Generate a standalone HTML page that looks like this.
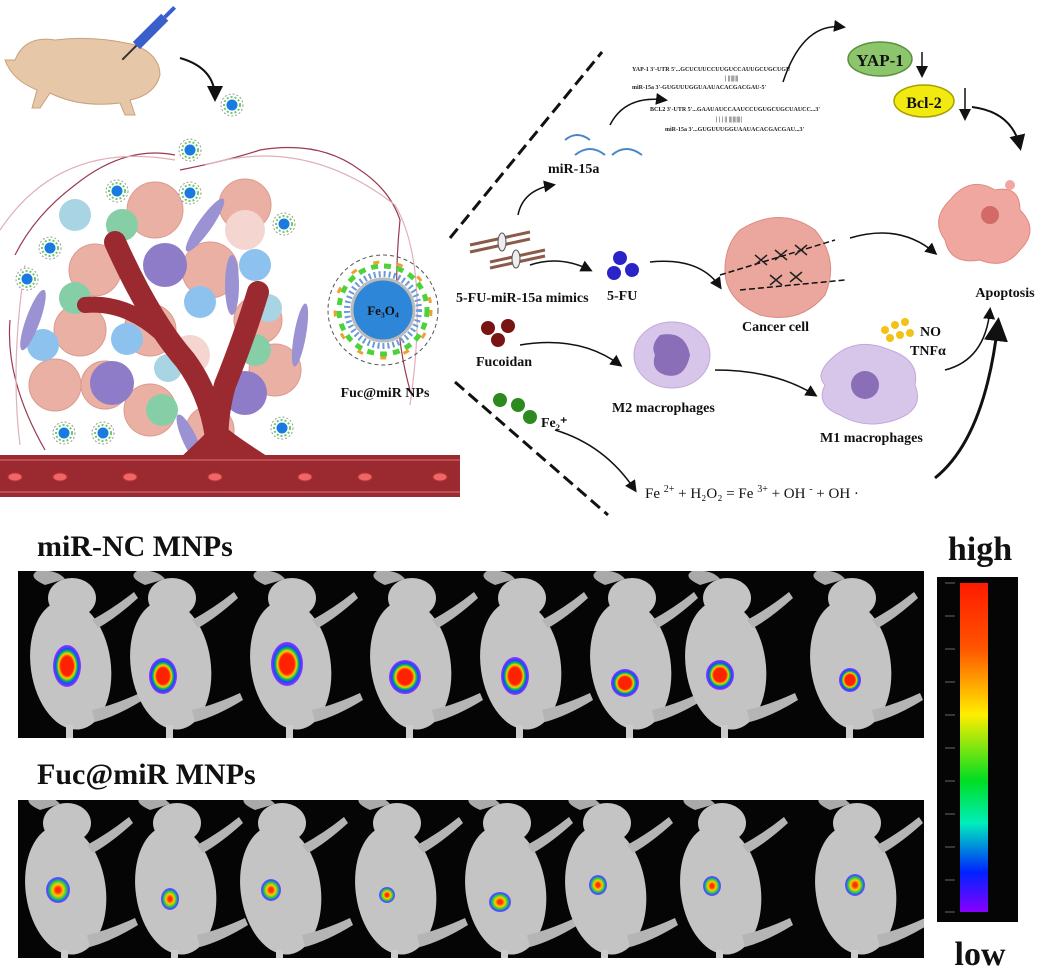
<!DOCTYPE html>
<html><head><meta charset="utf-8"><style>
html,body{margin:0;padding:0;background:#fff}
svg{display:block}
text{font-family:"Liberation Serif",serif;font-weight:bold}
</style></head><body>
<svg width="1039" height="975" viewBox="0 0 1039 975" xmlns="http://www.w3.org/2000/svg">
<defs>
<marker id="ah" markerWidth="8" markerHeight="8" refX="6" refY="4" orient="auto"><path d="M0,0 L8,4 L0,8 z" fill="#111"/></marker>
<linearGradient id="cb" x1="0" y1="0" x2="0" y2="1">
<stop offset="0" stop-color="#ff1a00"/><stop offset="0.2" stop-color="#ff5500"/><stop offset="0.4" stop-color="#ffee00"/><stop offset="0.6" stop-color="#00dd22"/><stop offset="0.73" stop-color="#00eebb"/><stop offset="0.88" stop-color="#0022ff"/><stop offset="1" stop-color="#8800ff"/></linearGradient>
<radialGradient id="blob"><stop offset="0.45" stop-color="#ff2200"/><stop offset="0.6" stop-color="#ffcc00"/><stop offset="0.7" stop-color="#00cc44"/><stop offset="0.82" stop-color="#2244ff"/><stop offset="1" stop-color="#9933ff"/></radialGradient>
<radialGradient id="blob2"><stop offset="0.2" stop-color="#ff3300"/><stop offset="0.45" stop-color="#ffcc00"/><stop offset="0.7" stop-color="#22cc44"/><stop offset="0.88" stop-color="#3355ff"/><stop offset="1" stop-color="#8844ff"/></radialGradient>
<clipPath id="c1"><rect x="18" y="571" width="906" height="167"/></clipPath>
<clipPath id="c2"><rect x="18" y="800" width="906" height="158"/></clipPath>
<g id="mouse" fill="#c4c4c4">
<ellipse cx="2" cy="-62" rx="24" ry="20"/>
<path d="M-25,-75 q-18,-8 -8,-14 q20,-2 28,8z" fill="#aaa"/>
<ellipse cx="0" cy="5" rx="40" ry="65" transform="rotate(-8)"/>
<path d="M22,-40 q22,-12 42,-28 l4,6 q-22,20 -40,30z" fill="#b5b5b5"/>
<path d="M22,50 q22,-5 48,-17 l3,7 q-26,16 -48,22z" fill="#b5b5b5"/>
<rect x="-4" y="65" width="7" height="25" fill="#ccc"/>
</g>
<g id="np"><circle r="11" fill="#fff" stroke="#999" stroke-dasharray="2 2"/><circle r="8" fill="none" stroke="#6c6" stroke-width="2" stroke-dasharray="2 2"/><circle r="5.5" fill="#1a7ae0"/></g>
</defs>

<path d="M15,60 q10,-25 40,-20 q40,-5 80,5 q25,10 25,30 q-5,20 -30,25 l5,15 h-10 l-5,-12 q-40,5 -70,-10 l-10,15 h-8 l5,-18 q-25,-10 -32,-30z" fill="#e6c7a8" stroke="#c9a07a"/>
<g transform="rotate(-45 152 30)"><rect x="130" y="25" width="40" height="10" fill="#3a5fcd"/><rect x="170" y="28" width="14" height="4" fill="#3a5fcd"/><line x1="110" y1="30" x2="130" y2="30" stroke="#333" stroke-width="2"/></g>
<path d="M180,58 q35,10 35,40" fill="none" stroke="#111" stroke-width="2" marker-end="url(#ah)"/>
<path d="M15,255 q20,-40 60,-70 q50,-40 100,-30 M180,170 q50,-10 80,-20 q60,-10 100,20 q30,20 40,50 q-10,100 10,170 M10,320 q-5,60 35,130" fill="none" stroke="#9b3a52" stroke-width="1.2"/>
<path d="M0,230 q60,-90 175,-70 M205,165 q100,-30 190,40 q35,60 15,200 M20,445 q-10,-80 5,-180" fill="none" stroke="#e0b0b8" stroke-width="1.2"/>
<g fill="#eab0a4" stroke="#dc9a8e">
<circle cx="155" cy="210" r="28"/><circle cx="245" cy="205" r="26"/><circle cx="95" cy="270" r="26"/><circle cx="210" cy="270" r="28"/><circle cx="258" cy="320" r="24"/><circle cx="80" cy="330" r="26"/><circle cx="150" cy="330" r="26"/><circle cx="55" cy="385" r="26"/><circle cx="105" cy="385" r="24"/><circle cx="150" cy="410" r="26"/><circle cx="275" cy="370" r="26"/><circle cx="210" cy="430" r="24"/>
</g>
<g fill="#f5d5cf"><circle cx="245" cy="230" r="20"/><circle cx="190" cy="355" r="20"/></g>
<g fill="#86cfa6"><circle cx="122" cy="225" r="16"/><circle cx="75" cy="298" r="16"/><circle cx="255" cy="350" r="16"/><circle cx="162" cy="410" r="16"/></g>
<g fill="#8ec2ee"><circle cx="43" cy="345" r="16"/><circle cx="200" cy="302" r="16"/><circle cx="127" cy="339" r="16"/><circle cx="255" cy="265" r="16"/></g>
<g fill="#a8d4e4"><circle cx="75" cy="215" r="16"/><circle cx="168" cy="368" r="14"/><circle cx="268" cy="308" r="14"/></g>
<g fill="#8f7cc8"><circle cx="165" cy="265" r="22"/><circle cx="112" cy="383" r="22"/><circle cx="245" cy="393" r="22"/></g>
<g fill="#9a92d2"><ellipse cx="33" cy="320" rx="7" ry="32" transform="rotate(20 33 320)"/><ellipse cx="205" cy="225" rx="7" ry="32" transform="rotate(35 205 225)"/><ellipse cx="232" cy="285" rx="7" ry="30"/><ellipse cx="190" cy="440" rx="7" ry="28" transform="rotate(-25 190 440)"/><ellipse cx="300" cy="335" rx="6" ry="32" transform="rotate(10 300 335)"/></g>
<!-- vessel -->
<g fill="none" stroke="#9b2a30" stroke-linecap="round">
<path d="M115,242 Q150,320 185,360 Q215,400 218,458" stroke-width="22"/>
<path d="M85,305 Q140,300 185,360" stroke-width="16"/>
<path d="M258,292 Q245,335 225,385 Q215,420 218,458" stroke-width="22"/>
</g>
<path d="M180,458 Q210,430 218,420 Q226,430 270,458z" fill="#9b2a30"/>
<rect x="0" y="455" width="460" height="42" fill="#9b2a30"/>
<line x1="0" y1="460" x2="460" y2="460" stroke="#c85a5e" stroke-width="1.5"/>
<line x1="0" y1="492" x2="460" y2="492" stroke="#c85a5e" stroke-width="1.5"/>
<g fill="#e66" stroke="#b33"><ellipse cx="15" cy="477" rx="7" ry="4"/><ellipse cx="60" cy="477" rx="7" ry="4"/><ellipse cx="130" cy="477" rx="7" ry="4"/><ellipse cx="215" cy="477" rx="7" ry="4"/><ellipse cx="305" cy="477" rx="7" ry="4"/><ellipse cx="365" cy="477" rx="7" ry="4"/><ellipse cx="440" cy="477" rx="7" ry="4"/></g>
<use href="#np" x="232" y="105"/><use href="#np" x="190" y="150"/><use href="#np" x="117" y="191"/><use href="#np" x="190" y="193"/><use href="#np" x="50" y="248"/><use href="#np" x="284" y="224"/><use href="#np" x="27" y="279"/><use href="#np" x="64" y="433"/><use href="#np" x="103" y="433"/><use href="#np" x="282" y="428"/>

<circle cx="383" cy="310" r="55" fill="none" stroke="#555" stroke-dasharray="4 3"/>
<circle cx="383" cy="310" r="44" fill="none" stroke="#4cd33a" stroke-width="5" stroke-dasharray="7 6"/>
<circle cx="383" cy="310" r="48" fill="none" stroke="#f0a030" stroke-width="3" stroke-dasharray="6 18"/>
<circle cx="383" cy="310" r="36" fill="none" stroke="#6a9ad8" stroke-width="6" stroke-dasharray="2 3"/>
<circle cx="383" cy="310" r="31" fill="#2d86d8" stroke="#bbb" stroke-width="3"/>
<text x="383" y="315" font-size="13" text-anchor="middle" fill="#111">Fe₃O₄</text>
<text x="385" y="397" font-size="14" text-anchor="middle" fill="#111">Fuc@miR NPs</text>

<line x1="450" y1="238" x2="602" y2="52" stroke="#111" stroke-width="3" stroke-dasharray="12 6"/>
<line x1="455" y1="382" x2="608" y2="515" stroke="#111" stroke-width="3" stroke-dasharray="12 6"/>

<g font-size="6" font-weight="bold" fill="#222">
<text x="632" y="71">YAP-1  3'-UTR 5'...GCUCUUCCUUGUCCAUUGCUGCUGU</text>
<text x="725" y="80">|      ||||||||</text>
<text x="632" y="89">miR-15a            3'-GUGUUUGGUAAUACACGACGAU-5'</text>
<text x="650" y="111">BCL2 3'-UTR          5'...GAAUAUCCAAUCCUGUGCUGCUAUCC...3'</text>
<text x="716" y="121">|   |   |  ||  ||||||||||</text>
<text x="665" y="131">miR-15a          3'...GUGUUUGGUAAUACACGACGAU...3'</text>
</g>
<path d="M783,82 q20,-60 60,-55" fill="none" stroke="#111" stroke-width="1.5" marker-end="url(#ah)"/>
<path d="M610,125 q15,-30 55,-25" fill="none" stroke="#111" stroke-width="1.5" marker-end="url(#ah)"/>
<ellipse cx="880" cy="59" rx="32" ry="17" fill="#8cc56b" stroke="#5a8f3d" stroke-width="1.5"/>
<text x="880" y="66" font-size="17" text-anchor="middle" fill="#111">YAP-1</text>
<ellipse cx="924" cy="101" rx="30" ry="16" fill="#f0ea10" stroke="#a99f00" stroke-width="1.5"/>
<text x="924" y="108" font-size="16" text-anchor="middle" fill="#111">Bcl-2</text>
<line x1="922" y1="52" x2="922" y2="75" stroke="#111" stroke-width="1.5" marker-end="url(#ah)"/>
<line x1="965" y1="88" x2="965" y2="118" stroke="#111" stroke-width="1.5" marker-end="url(#ah)"/>
<path d="M972,107 q40,5 48,40" fill="none" stroke="#111" stroke-width="2" marker-end="url(#ah)"/>

<g stroke="#4a86c8" stroke-width="2" fill="none"><path d="M565,140 q12,-10 25,0 M575,155 q15,-12 30,0 M612,155 q14,-12 30,0"/></g>
<text x="548" y="173" font-size="14" fill="#111">miR-15a</text>
<path d="M518,215 q5,-25 35,-30" fill="none" stroke="#111" stroke-width="1.5" marker-end="url(#ah)"/>
<g stroke="#8b5a4a" stroke-width="3"><line x1="470" y1="245" x2="530" y2="232"/><line x1="470" y1="252" x2="530" y2="239"/><line x1="490" y1="262" x2="545" y2="250"/><line x1="490" y1="268" x2="545" y2="256"/></g>
<ellipse cx="502" cy="242" rx="4" ry="9" fill="#eee" stroke="#555"/><ellipse cx="516" cy="259" rx="4" ry="9" fill="#eee" stroke="#555"/>
<text x="456" y="302" font-size="14" fill="#111">5-FU-miR-15a mimics</text>
<path d="M530,265 q30,-10 60,5" fill="none" stroke="#111" stroke-width="1.5" marker-end="url(#ah)"/>
<g fill="#2a24c8"><circle cx="620" cy="258" r="7"/><circle cx="632" cy="270" r="7"/><circle cx="614" cy="273" r="7"/></g>
<text x="607" y="300" font-size="14" fill="#111">5-FU</text>
<path d="M650,262 q50,-5 70,25" fill="none" stroke="#111" stroke-width="1.5" marker-end="url(#ah)"/>
<path d="M740,230 q40,-25 75,0 q25,30 10,65 q-25,30 -65,20 q-35,-15 -35,-45 q0,-25 15,-40z" fill="#eba79d" stroke="#d98c80"/>
<g stroke="#111" stroke-width="1.5" fill="none" stroke-dasharray="6 3"><line x1="720" y1="275" x2="835" y2="240"/><line x1="740" y1="290" x2="845" y2="280"/></g>
<g stroke="#222" stroke-width="1.5" fill="none"><path d="M755,255 l12,10 M767,255 l-12,10 M775,250 l12,10 M787,250 l-12,10 M795,245 l12,10 M807,245 l-12,10 M770,275 l12,10 M782,275 l-12,10 M790,272 l12,10 M802,272 l-12,10"/></g>
<text x="742" y="331" font-size="14" fill="#111">Cancer cell</text>
<path d="M850,238 q50,-15 85,15" fill="none" stroke="#111" stroke-width="1.5" marker-end="url(#ah)"/>
<path d="M950,200 q20,-25 45,-10 q25,-5 25,20 q20,20 0,40 q-15,20 -40,10 q-30,5 -35,-20 q-15,-20 5,-40z" fill="#f0a7a0" stroke="#e08a82"/>
<circle cx="990" cy="215" r="9" fill="#d46a66"/><circle cx="1010" cy="185" r="5" fill="#f0a7a0"/>
<text x="1005" y="297" font-size="14" text-anchor="middle" fill="#111">Apoptosis</text>
<g fill="#7a1414"><circle cx="488" cy="328" r="7"/><circle cx="508" cy="326" r="7"/><circle cx="498" cy="340" r="7"/></g>
<text x="476" y="366" font-size="14" fill="#111">Fucoidan</text>
<path d="M520,345 q60,-10 100,20" fill="none" stroke="#111" stroke-width="1.5" marker-end="url(#ah)"/>
<ellipse cx="672" cy="355" rx="38" ry="33" fill="#d8c6ea" stroke="#c0a8dc"/>
<path d="M660,335 q25,-5 30,20 q-5,25 -25,20 q-15,-5 -10,-20 q-5,-10 5,-20z" fill="#8a6eb8"/>
<text x="612" y="412" font-size="14" fill="#111">M2 macrophages</text>
<path d="M715,370 q60,0 100,25" fill="none" stroke="#111" stroke-width="1.5" marker-end="url(#ah)"/>
<path d="M830,360 q25,-25 60,-10 q30,10 25,35 q10,25 -20,35 q-30,10 -55,-5 q-25,-10 -15,-30 q-10,-10 5,-25z" fill="#d8c6ea" stroke="#c0a8dc"/>
<circle cx="865" cy="385" r="14" fill="#8a6eb8"/>
<g fill="#f4c214"><circle cx="885" cy="330" r="4"/><circle cx="895" cy="325" r="4"/><circle cx="905" cy="322" r="4"/><circle cx="890" cy="338" r="4"/><circle cx="900" cy="335" r="4"/><circle cx="910" cy="333" r="4"/></g>
<text x="920" y="336" font-size="14" fill="#111">NO</text>
<text x="910" y="355" font-size="14" fill="#111">TNFα</text>
<text x="820" y="442" font-size="14" fill="#111">M1 macrophages</text>
<path d="M945,370 q40,-10 45,-60" fill="none" stroke="#111" stroke-width="1.5" marker-end="url(#ah)"/>
<g fill="#2d8a1f"><circle cx="500" cy="400" r="7"/><circle cx="518" cy="405" r="7"/><circle cx="530" cy="417" r="7"/></g>
<text x="541" y="427" font-size="14" fill="#111">Fe₂⁺</text>
<path d="M555,430 q50,15 80,60" fill="none" stroke="#111" stroke-width="1.5" marker-end="url(#ah)"/>
<text x="645" y="498" font-size="15" fill="#111" style="font-weight:normal">Fe <tspan font-size="10" dy="-6">2+</tspan><tspan dy="6"> + H₂O₂ = Fe </tspan><tspan font-size="10" dy="-6">3+</tspan><tspan dy="6"> + OH </tspan><tspan font-size="10" dy="-6">-</tspan><tspan dy="6"> + OH ·</tspan></text>
<path d="M935,478 q50,-40 63,-155" fill="none" stroke="#111" stroke-width="3" marker-end="url(#ah)"/>

<text x="37" y="556" font-size="30" fill="#111">miR-NC MNPs</text>
<text x="37" y="784" font-size="30" fill="#111">Fuc@miR MNPs</text>
<rect x="18" y="571" width="906" height="167" fill="#050505"/>
<rect x="18" y="800" width="906" height="158" fill="#050505"/>
<g clip-path="url(#c1)">
<use href="#mouse" transform="translate(70,660)"/>
<use href="#mouse" transform="translate(170,660)"/>
<use href="#mouse" transform="translate(290,660)"/>
<use href="#mouse" transform="translate(410,660)"/>
<use href="#mouse" transform="translate(520,660)"/>
<use href="#mouse" transform="translate(630,660)"/>
<use href="#mouse" transform="translate(725,660)"/>
<use href="#mouse" transform="translate(850,660)"/>
</g>
<g clip-path="url(#c2)">
<use href="#mouse" transform="translate(65,885)"/>
<use href="#mouse" transform="translate(175,885)"/>
<use href="#mouse" transform="translate(280,885)"/>
<use href="#mouse" transform="translate(395,885)"/>
<use href="#mouse" transform="translate(505,885)"/>
<use href="#mouse" transform="translate(605,885)"/>
<use href="#mouse" transform="translate(720,885)"/>
<use href="#mouse" transform="translate(855,885)"/>
</g>
<g fill="url(#blob)">
<ellipse cx="67" cy="666" rx="14" ry="21"/><ellipse cx="163" cy="676" rx="14" ry="18"/><ellipse cx="287" cy="664" rx="16" ry="22"/><ellipse cx="405" cy="677" rx="16" ry="17"/><ellipse cx="515" cy="676" rx="14" ry="19"/><ellipse cx="625" cy="683" rx="14" ry="14"/><ellipse cx="720" cy="675" rx="14" ry="15"/><ellipse cx="850" cy="680" rx="11" ry="12"/>
</g>
<g fill="url(#blob2)">
<ellipse cx="58" cy="890" rx="12" ry="13"/><ellipse cx="170" cy="899" rx="9" ry="11"/><ellipse cx="271" cy="890" rx="10" ry="11"/><ellipse cx="387" cy="895" rx="8" ry="8"/><ellipse cx="500" cy="902" rx="11" ry="10"/><ellipse cx="598" cy="885" rx="9" ry="10"/><ellipse cx="712" cy="886" rx="9" ry="10"/><ellipse cx="855" cy="885" rx="10" ry="11"/>
</g>
<text x="980" y="560" font-size="34" text-anchor="middle" fill="#111">high</text>
<rect x="937" y="577" width="81" height="345" fill="#050505"/>
<rect x="960" y="583" width="28" height="329" fill="url(#cb)"/>
<g stroke="#666" stroke-width="1"><line x1="945" y1="583" x2="955" y2="583"/><line x1="945" y1="616" x2="955" y2="616"/><line x1="945" y1="649" x2="955" y2="649"/><line x1="945" y1="682" x2="955" y2="682"/><line x1="945" y1="715" x2="955" y2="715"/><line x1="945" y1="748" x2="955" y2="748"/><line x1="945" y1="781" x2="955" y2="781"/><line x1="945" y1="814" x2="955" y2="814"/><line x1="945" y1="847" x2="955" y2="847"/><line x1="945" y1="880" x2="955" y2="880"/><line x1="945" y1="912" x2="955" y2="912"/></g>
<text x="980" y="965" font-size="34" text-anchor="middle" fill="#111">low</text>
</svg>
</body></html>
